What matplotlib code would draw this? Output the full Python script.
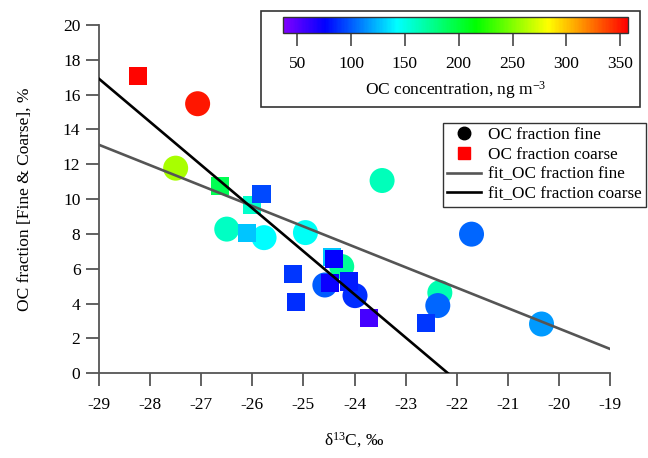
import matplotlib

matplotlib.use("Agg")
import matplotlib.pyplot as plt
from matplotlib.colors import LinearSegmentedColormap, Normalize
from matplotlib.lines import Line2D
from matplotlib.patches import Rectangle

# fine fraction (circles)
fine_d13c = [-27.07, -27.50, -26.50, -25.77, -24.96, -23.46, -24.25, -24.58, -23.99, -21.71, -22.33, -22.37, -20.34]
fine_frac = [15.48, 11.78, 8.28, 7.79, 8.08, 11.07, 6.13, 5.07, 4.46, 7.99, 4.63, 3.89, 2.83]
fine_conc = [350, 260, 160, 143, 145, 162, 172, 100, 88, 103, 165, 103, 116]

# coarse fraction (squares)
coarse_d13c = [-28.23, -26.63, -26.01, -25.82, -26.11, -24.44, -24.40, -25.21, -24.48, -24.10, -25.14, -23.72, -22.60]
coarse_frac = [17.09, 10.76, 9.67, 10.29, 8.08, 6.70, 6.57, 5.69, 5.17, 5.27, 4.08, 3.16, 2.87]
coarse_conc = [355, 192, 157, 95, 127, 127, 75, 90, 72, 82, 88, 55, 90]

# fitted lines (end points)
fit_fine_x = [-29.0, -19.0]
fit_fine_y = [13.12, 1.40]
fit_coarse_x = [-29.0, -22.17]
fit_coarse_y = [16.91, 0.0]

conc_range = (37, 357)
conc_ticks = [50, 100, 150, 200, 250, 300, 350]

_SPINE = "#555555"

plt.rcParams["font.family"] = ["Liberation Serif", "DejaVu Serif"]
plt.rcParams["mathtext.fontset"] = "custom"
plt.rcParams["mathtext.rm"] = "Liberation Serif"
plt.rcParams["mathtext.it"] = "Liberation Serif:italic"
plt.rcParams["axes.unicode_minus"] = False
plt.rcParams["font.size"] = 12

cmap = LinearSegmentedColormap.from_list(
    "igor_rainbow",
    [(0.0, "#8000ff"), (0.12, "#0000ff"), (0.33, "#00ffff"),
     (0.56, "#00ff00"), (0.77, "#ffff00"), (1.0, "#ff0000")],
)
norm = Normalize(*conc_range)

fig = plt.figure(figsize=(6.48, 4.58), dpi=100)
ax = fig.add_axes([99 / 648, 1 - 373.3 / 458, 511 / 648, 348.3 / 458])

ax.scatter(fine_d13c, fine_frac, c=fine_conc, cmap=cmap, norm=norm, marker="o", s=18 ** 2,
           linewidths=0, zorder=2)
ax.scatter(coarse_d13c, coarse_frac, c=coarse_conc, cmap=cmap, norm=norm, marker="s", s=13 ** 2,
           linewidths=0, zorder=3)
ax.plot(fit_fine_x, fit_fine_y, color="#555555", lw=1.9, zorder=4)
ax.plot(fit_coarse_x, fit_coarse_y, color="black", lw=1.9, zorder=5)

ax.set_xlim(-29, -19)
ax.set_ylim(0, 20)
ax.set_xticks(range(-29, -18))
ax.set_yticks(range(0, 21, 2))
for side in ("top", "right"):
    ax.spines[side].set_visible(False)
for side in ("left", "bottom"):
    ax.spines[side].set_color(_SPINE)
    ax.spines[side].set_linewidth(1.3)
ax.tick_params(direction="out", length=9.4, width=1.3, color=_SPINE, labelsize=12.5, pad=4)
ax.tick_params(axis="x", pad=8)
ax.set_xlabel(r"δ$^{\mathregular{13}}$C, ‰", fontsize=12.5, labelpad=12)
ax.set_ylabel("OC fraction [Fine & Coarse], %", fontsize=12.5, labelpad=22)

# colour scale box
fig.add_artist(Rectangle((261 / 648, 1 - 107 / 458), 379 / 648, 96 / 458,
                         transform=fig.transFigure, facecolor="white",
                         edgecolor="#333333", linewidth=1.2, zorder=5))
cax = fig.add_axes([283.3 / 648, 1 - 33.3 / 458, 344.4 / 648, 16.6 / 458], zorder=6)
cb = fig.colorbar(plt.cm.ScalarMappable(norm=norm, cmap=cmap), cax=cax, orientation="horizontal")
cb.set_ticks(conc_ticks)
cb.outline.set_edgecolor("#333333")
cb.outline.set_linewidth(1.0)
cax.tick_params(direction="out", length=9.4, width=1.3, color=_SPINE, labelsize=12.5, pad=7)
cb.set_label(r"OC concentration, ng m$^{\mathregular{-3}}$", fontsize=12.5, labelpad=5)

handles = [
    Line2D([], [], marker="o", color="black", ls="none", markersize=9),
    Line2D([], [], marker="s", color="red", ls="none", markersize=8),
    Line2D([], [], color="#555555", lw=1.9),
    Line2D([], [], color="black", lw=1.9),
]
labels = ["OC fraction fine", "OC fraction coarse", "fit_OC fraction fine", "fit_OC fraction coarse"]
leg = fig.legend(handles, labels, loc="upper right", bbox_to_anchor=(646 / 648, 1 - 122.7 / 458),
                 frameon=True, fancybox=False, edgecolor="#333333", framealpha=1,
                 fontsize=12.3, handlelength=2.0, handletextpad=0.4, labelspacing=0.22,
                 borderpad=0.25, borderaxespad=0)
leg.get_frame().set_linewidth(1.0)

fig.savefig("out.png", dpi=100)
